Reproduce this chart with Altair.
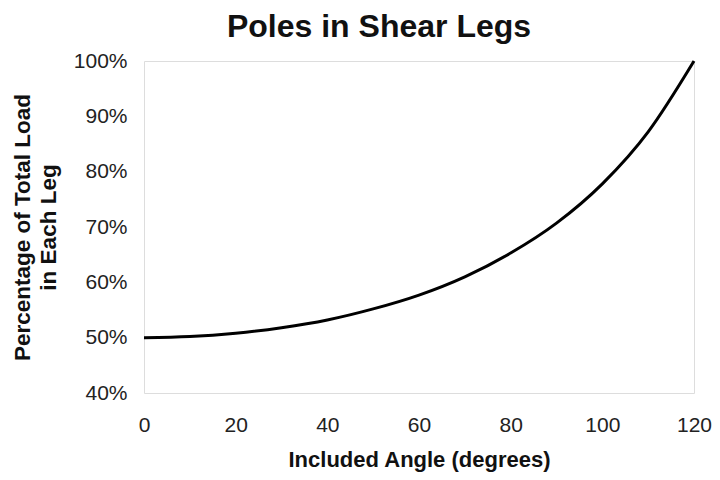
import altair as alt
import pandas as pd

angles = [0, 10, 20, 30, 40, 50, 60, 70, 80, 90, 100, 110, 120]
load_share = [0.500, 0.502, 0.508, 0.518, 0.532, 0.552, 0.577, 0.610, 0.653, 0.707, 0.778, 0.872, 1.000]
x_ticks = [0, 20, 40, 60, 80, 100, 120]
y_ticks = [0.4, 0.5, 0.6, 0.7, 0.8, 0.9, 1.0]

df = pd.DataFrame({"angle": angles, "share": load_share})

font = "Liberation Sans"

chart = alt.Chart(df).mark_line(color="black", strokeWidth=3, interpolate="monotone").encode(
    x=alt.X("angle:Q",
            scale=alt.Scale(domain=[0, 120], nice=False),
            axis=alt.Axis(values=x_ticks, title="Included Angle (degrees)", grid=False,
                          domain=False, ticks=False, labelPadding=21, labelFontSize=21,
                          labelFont=font, labelColor="#222", titleFont=font, titleFontSize=22,
                          titleFontWeight="bold", titleColor="#111",
                          titleBaseline="alphabetic", titleY=73,
                          labelFlush=False)),
    y=alt.Y("share:Q",
            scale=alt.Scale(domain=[0.4, 1.0], nice=False),
            axis=alt.Axis(values=y_ticks, format=".0%", grid=False, domain=False, ticks=False,
                          labelPadding=17, labelFontSize=21, labelFont=font, labelColor="#222",
                          title=["Percentage of Total Load", "in Each Leg"],
                          titleFont=font, titleFontSize=22.5, titleFontWeight="bold",
                          titleColor="#111", titleLineHeight=26, titleBaseline="bottom",
                          titleX=-110, titleY=166, labelFlush=False)),
).properties(
    width=550,
    height=332,
    padding={"left": 136, "top": 53, "right": 18, "bottom": 79},
    autosize=alt.AutoSizeParams(type="none"),
    title=alt.TitleParams("Poles in Shear Legs", font=font, fontSize=32, fontWeight="bold",
                          color="#111", anchor="middle", dx=-40, offset=6),
).configure_view(stroke="#c8c8c8", strokeWidth=1.5).configure(background="white")

chart.save("out.html", embed_options={"renderer": "svg", "actions": False})
